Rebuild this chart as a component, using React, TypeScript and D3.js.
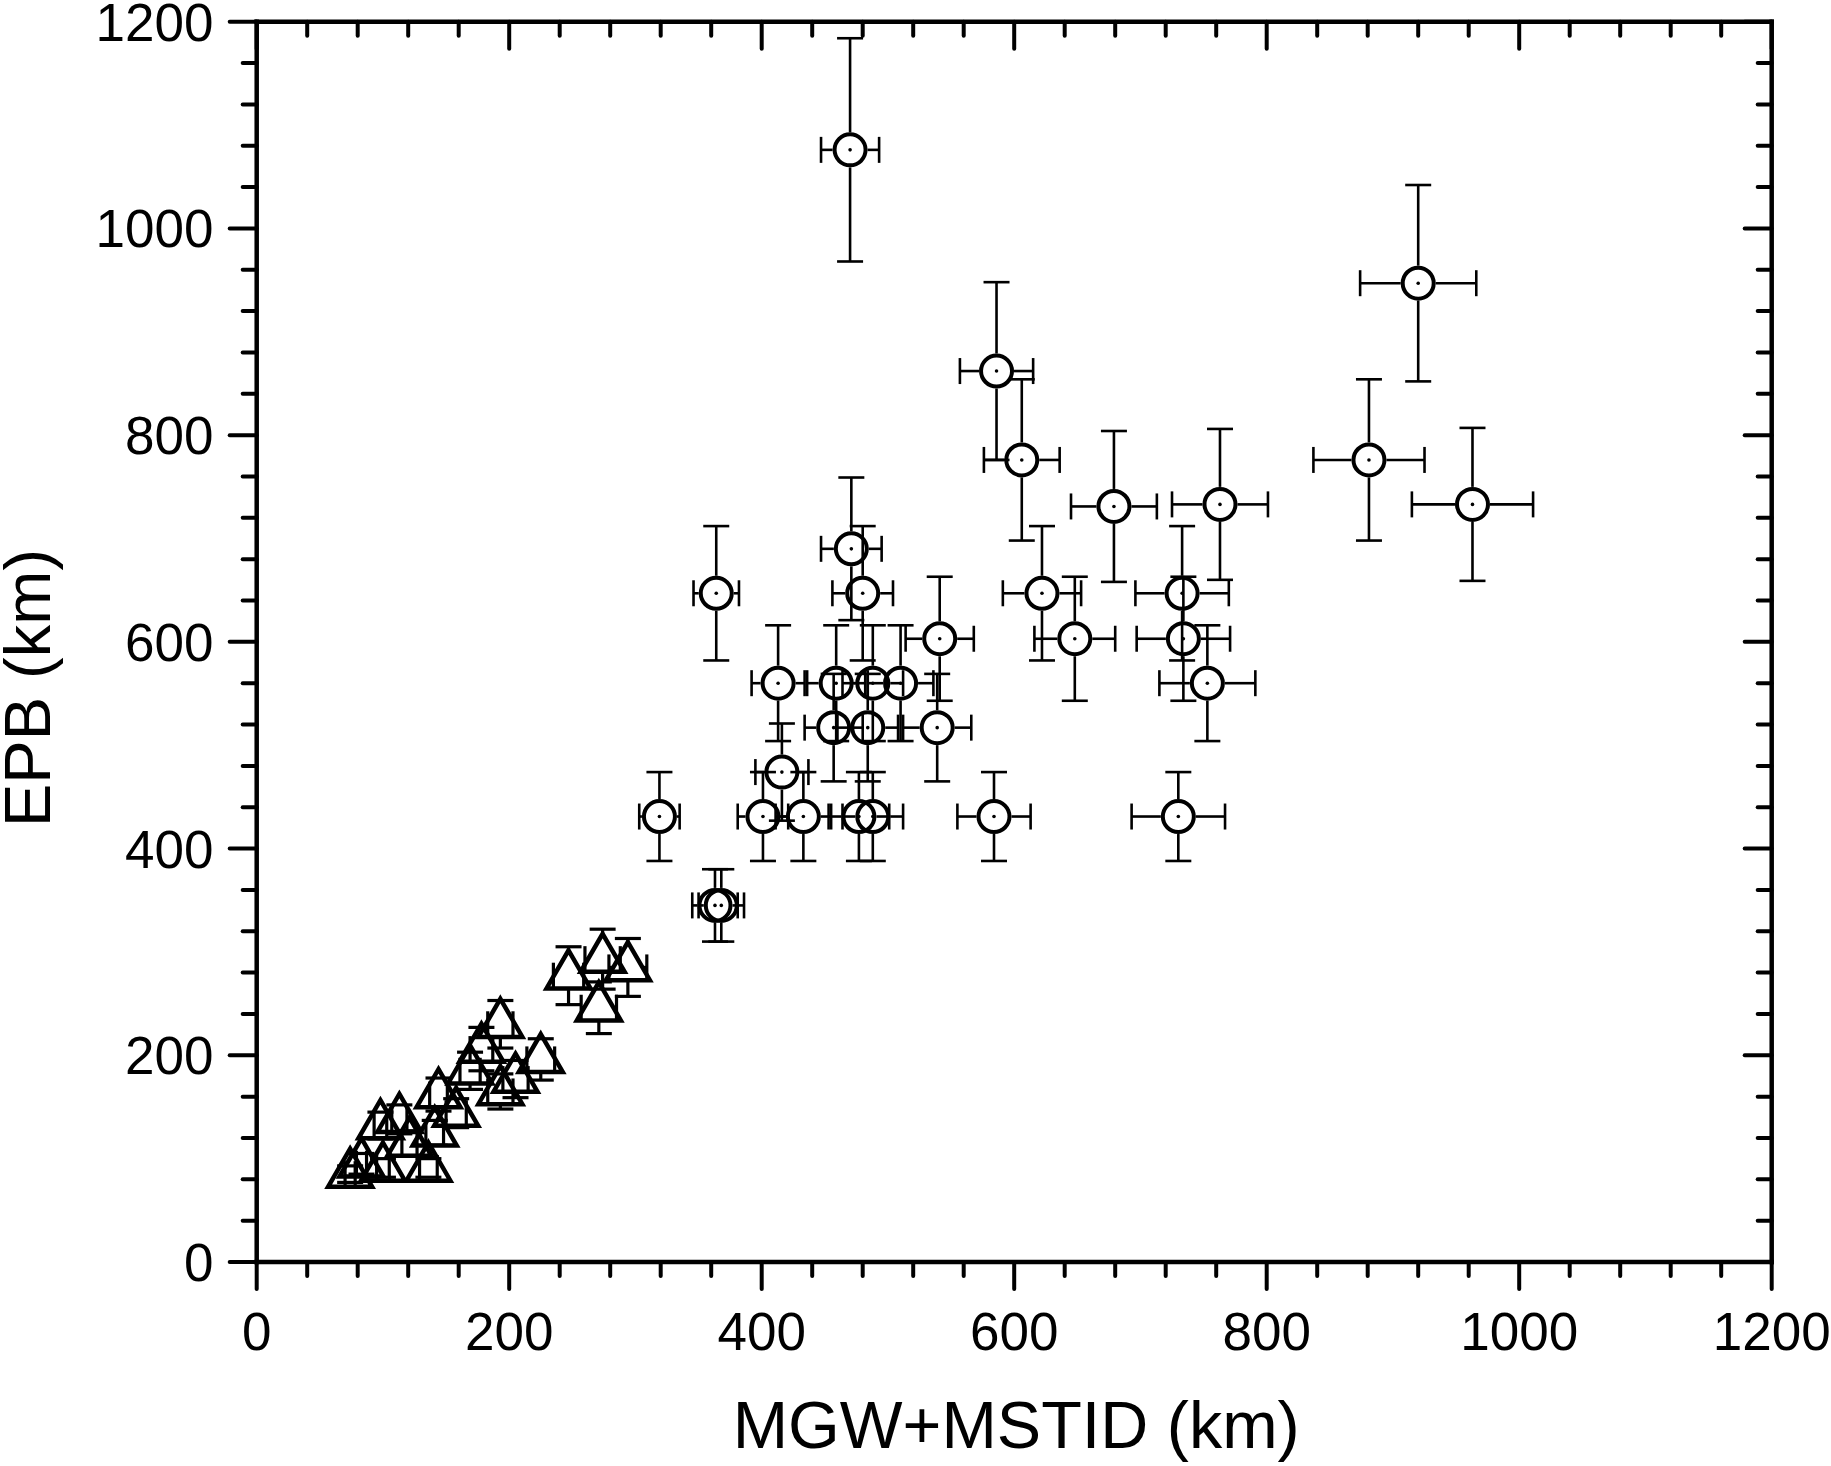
import React from "react";
import * as d3 from "d3";

// ---- Data ----
// Open circles: MGW+MSTID (km) vs EPB (km)
const circleX = [470, 920, 586, 606, 881, 679, 763, 963, 471, 364, 480, 622, 733, 541, 648, 734, 413, 459, 488, 510, 753, 457, 484, 539, 416, 319, 401, 433, 477, 488, 584, 730, 363, 368];
const circleY = [1076, 947, 862, 776, 776, 731, 733, 733, 690, 647, 647, 647, 647, 603, 603, 603, 560, 560, 560, 560, 560, 517, 517, 517, 474, 431, 431, 431, 431, 431, 431, 431, 345, 345];
const circleXErr = [23, 46, 29, 30, 44, 34, 38, 48, 24, 18, 24, 31, 37, 27, 32, 37, 21, 23, 24, 26, 38, 23, 24, 27, 21, 16, 20, 22, 24, 24, 29, 37, 18, 18];
const circleYErr = [108, 95, 86, 78, 78, 73, 73, 74, 69, 65, 65, 65, 65, 60, 60, 60, 56, 56, 56, 56, 56, 52, 52, 52, 47, 43, 43, 43, 43, 43, 43, 43, 35, 35];

// Open triangles
const triX = [247, 274, 294, 271, 193, 225, 178, 169, 205, 193, 144, 158, 113, 98, 141, 121, 136, 100, 83, 74];
const triY = [277, 293, 285, 246, 230, 196, 206, 185, 177, 165, 162, 144, 138, 132, 125, 115, 91, 91, 95, 85];
const triXErr = [12, 14, 15, 14, 10, 11, 9, 8, 10, 10, 7, 8, 6, 5, 7, 6, 7, 5, 4, 4];
const triYErr = [28, 29, 28, 25, 23, 20, 21, 18, 18, 17, 16, 14, 14, 13, 12, 12, 9, 9, 10, 8];

const majorTicks = [0, 200, 400, 600, 800, 1000, 1200];
const xTitle = "MGW+MSTID (km)";
const yTitle = "EPB (km)";

const W = 1831;
const H = 1466;
const L = 256.7, R = 1771.7, T = 21.7, B = 1262;
const FONT = "'Liberation Sans', Arial, Helvetica, sans-serif";

export default function App() {
  const x = d3.scaleLinear().domain([0, 1200]).range([L, R]);
  const y = d3.scaleLinear().domain([0, 1200]).range([B, T]);
  const minor = d3.range(0, 1201, 40).filter((v) => v % 200 !== 0);

  const axisW = 4.5;
  const tickW = 4;
  const majLen = 27;
  const minLen = 14;

  const cr = 15.5; // circle radius
  const cap = 13;
  const ebW = 2.6;

  const triSide = 44;
  const triH = (triSide * Math.sqrt(3)) / 2;
  const triUp = (2 / 3) * triH;
  const triDown = triH / 3;
  const triHalfAtC = (triSide / 2) * (2 / 3);

  const errorBars = (
    cx: number, cy: number, ex: number, ey: number,
    gUp: number, gDown: number, gSide: number, key: string, sw: number
  ) => {
    const x0 = x(cx - ex), x1 = x(cx + ex);
    const yTop = y(cy + ey), yBot = y(cy - ey);
    const px = x(cx), py = y(cy);
    return (
      <g key={key} stroke="#000" strokeWidth={sw} fill="none">
        {yTop < py - gUp && <line x1={px} x2={px} y1={py - gUp} y2={yTop} />}
        {yBot > py + gDown && <line x1={px} x2={px} y1={py + gDown} y2={yBot} />}
        <line x1={px - cap} x2={px + cap} y1={yTop} y2={yTop} />
        <line x1={px - cap} x2={px + cap} y1={yBot} y2={yBot} />
        {x0 < px - gSide && <line x1={px - gSide} x2={x0} y1={py} y2={py} />}
        {x1 > px + gSide && <line x1={px + gSide} x2={x1} y1={py} y2={py} />}
        <line x1={x0} x2={x0} y1={py - cap} y2={py + cap} />
        <line x1={x1} x2={x1} y1={py - cap} y2={py + cap} />
      </g>
    );
  };

  return (
    <svg
      width={W}
      height={H}
      viewBox={`0 0 ${W} ${H}`}
      style={{ position: "absolute", left: 0, top: 0, background: "#fff" }}
      fontFamily={FONT}
    >
      <rect x={0} y={0} width={W} height={H} fill="#fff" />

      {/* Triangles */}
      <g>
        {triX.map((v, i) =>
          errorBars(v, triY[i], triXErr[i], triYErr[i], triUp, triDown, triHalfAtC, `te${i}`, 3.2)
        )}
        {triX.map((v, i) => {
          const px = x(v), py = y(triY[i]);
          const p = `M${px},${py - triUp} L${px + triSide / 2},${py + triDown} L${px - triSide / 2},${py + triDown} Z`;
          return <path key={`t${i}`} d={p} fill="none" stroke="#000" strokeWidth={4.5} strokeLinejoin="miter" />;
        })}
      </g>

      {/* Circles */}
      <g>
        {circleX.map((v, i) =>
          errorBars(v, circleY[i], circleXErr[i], circleYErr[i], cr + 2, cr + 2, cr + 2, `ce${i}`, ebW)
        )}
        {circleX.map((v, i) => (
          <g key={`c${i}`}>
            <circle cx={x(v)} cy={y(circleY[i])} r={cr} fill="none" stroke="#000" strokeWidth={4} />
            <circle cx={x(v)} cy={y(circleY[i])} r={1.8} fill="#000" />
          </g>
        ))}
      </g>

      {/* Axes frame */}
      <g stroke="#000" strokeWidth={axisW} fill="none" strokeLinecap="square">
        <line x1={L} x2={R} y1={B} y2={B} />
        <line x1={L} x2={R} y1={T} y2={T} />
        <line x1={L} x2={L} y1={T} y2={B} />
        <line x1={R} x2={R} y1={T} y2={B} />
      </g>

      {/* Ticks */}
      <g stroke="#000" strokeWidth={tickW} strokeLinecap="round">
        {majorTicks.map((v) => (
          <g key={`mx${v}`}>
            <line x1={x(v)} x2={x(v)} y1={B} y2={B + majLen} />
            <line x1={x(v)} x2={x(v)} y1={T} y2={T + majLen} />
            <line x1={L} x2={L - majLen} y1={y(v)} y2={y(v)} />
            <line x1={R} x2={R - majLen} y1={y(v)} y2={y(v)} />
          </g>
        ))}
        {minor.map((v) => (
          <g key={`mn${v}`}>
            <line x1={x(v)} x2={x(v)} y1={B} y2={B + minLen} />
            <line x1={x(v)} x2={x(v)} y1={T} y2={T + minLen} />
            <line x1={L} x2={L - minLen} y1={y(v)} y2={y(v)} />
            <line x1={R} x2={R - minLen} y1={y(v)} y2={y(v)} />
          </g>
        ))}
      </g>

      {/* Tick labels */}
      <g fontSize={53} fill="#000">
        {majorTicks.map((v) => (
          <text key={`lx${v}`} x={x(v)} y={1350} textAnchor="middle">
            {v}
          </text>
        ))}
        {majorTicks.map((v) => (
          <text key={`ly${v}`} x={213.5} y={y(v) + 19} textAnchor="end">
            {v}
          </text>
        ))}
      </g>

      {/* Axis titles */}
      <text x={(L + R) / 2 + 2} y={1448} textAnchor="middle" fontSize={66.5} fill="#000">
        {xTitle}
      </text>
      <text
        transform={`translate(50,688) rotate(-90)`}
        textAnchor="middle"
        fontSize={65}
        fill="#000"
      >
        {yTitle}
      </text>
    </svg>
  );
}
